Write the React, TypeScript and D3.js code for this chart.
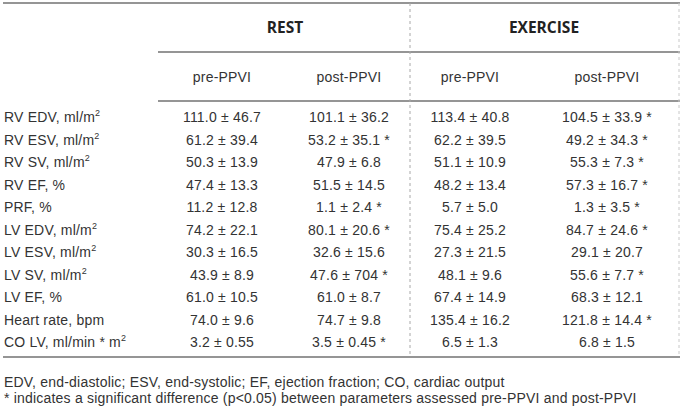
import React from "react";
import * as d3 from "d3";

const rowLabels = ["RV EDV", "RV ESV", "RV SV", "RV EF", "PRF", "LV EDV", "LV ESV", "LV SV", "LV EF", "Heart rate", "CO LV"];
const rowUnits = ["ml/m", "ml/m", "ml/m", "%", "%", "ml/m", "ml/m", "ml/m", "%", "bpm", "ml/min * m"];
const rowSup = ["2", "2", "2", "", "", "2", "2", "2", "", "", "2"];

const groups = ["REST", "EXERCISE"];
const columns = ["pre-PPVI", "post-PPVI", "pre-PPVI", "post-PPVI"];

const restPre = ["111.0 ± 46.7", "61.2 ± 39.4", "50.3 ± 13.9", "47.4 ± 13.3", "11.2 ± 12.8", "74.2 ± 22.1", "30.3 ± 16.5", "43.9 ± 8.9", "61.0 ± 10.5", "74.0 ± 9.6", "3.2 ± 0.55"];
const restPost = ["101.1 ± 36.2", "53.2 ± 35.1 *", "47.9 ± 6.8", "51.5 ± 14.5", "1.1 ± 2.4 *", "80.1 ± 20.6 *", "32.6 ± 15.6", "47.6 ± 704 *", "61.0 ± 8.7", "74.7 ± 9.8", "3.5 ± 0.45 *"];
const exPre = ["113.4 ± 40.8", "62.2 ± 39.5", "51.1 ± 10.9", "48.2 ± 13.4", "5.7 ± 5.0", "75.4 ± 25.2", "27.3 ± 21.5", "48.1 ± 9.6", "67.4 ± 14.9", "135.4 ± 16.2", "6.5 ± 1.3"];
const exPost = ["104.5 ± 33.9 *", "49.2 ± 34.3 *", "55.3 ± 7.3 *", "57.3 ± 16.7 *", "1.3 ± 3.5 *", "84.7 ± 24.6 *", "29.1 ± 20.7", "55.6 ± 7.7 *", "68.3 ± 12.1", "121.8 ± 14.4 *", "6.8 ± 1.5"];

const footnotes = [
  "EDV, end-diastolic; ESV, end-systolic; EF, ejection fraction; CO, cardiac output",
  "* indicates a significant difference (p<0.05) between parameters assessed pre-PPVI and post-PPVI",
];

export default function App() {
  const W = 685, H = 411;
  const colData = [restPre, restPost, exPre, exPost];
  const colIdx = d3.range(columns.length);
  const x = d3.scaleOrdinal<number, number>().domain(colIdx).range([222, 349, 470, 607]);
  const gx = d3.scaleOrdinal<number, number>().domain([0, 1]).range([285, 544]);
  const y = d3.scalePoint<string>().domain(rowLabels).range([117, 342]);
  const font = "'Liberation Sans', Arial, sans-serif";
  const txt = "#333";
  const line = "#959595";
  const left = 3, right = 680, midX = 410;
  const yTop = 3, yG = 52, yS = 101, yBot = 357;
  const fs = 14;
  const ls = 0.2;
  return (
    <svg width={W} height={H} style={{ position: "absolute", left: 0, top: 0, background: "#fff" }} fontFamily={font}>
      <rect width={W} height={H} fill="#fff" />
      <line x1={left} x2={right} y1={yTop} y2={yTop} stroke={line} strokeWidth={2} />
      <line x1={158} x2={right} y1={yG} y2={yG} stroke={line} strokeWidth={2} />
      <line x1={158} x2={right} y1={yS} y2={yS} stroke={line} strokeWidth={2} />
      <line x1={left} x2={right} y1={yBot} y2={yBot} stroke={line} strokeWidth={2} />
      <line x1={midX} x2={midX} y1={yTop} y2={yBot} stroke="#a8a8a8" strokeWidth={1} strokeDasharray="3,3" />
      <line x1={right - 1} x2={right - 1} y1={yTop} y2={yBot} stroke="#c8c8c8" strokeWidth={1} strokeDasharray="3,3" />
      {groups.map((g, i) => (
        <text key={g} x={gx(i)} y={33} textAnchor="middle" fontFamily="'Open Sans', Arial, sans-serif" fontWeight="bold" fontSize={15.5} fill="#222">{g}</text>
      ))}
      {columns.map((c, i) => (
        <text key={i} x={x(i)} y={82} textAnchor="middle" fontSize={fs} letterSpacing={ls} fill={txt}>{c}</text>
      ))}
      {rowLabels.map((r, ri) => (
        <g key={r}>
          <text x={4} y={(y(r) as number) + 5} fontSize={fs} letterSpacing={ls} fill={txt}>
            {`${r}, ${rowUnits[ri]}`}
            {rowSup[ri] ? <tspan dy={-6} fontSize={9}>{rowSup[ri]}</tspan> : null}
          </text>
          {colIdx.map((ci) => (
            <text key={ci} x={x(ci)} y={(y(r) as number) + 5} textAnchor="middle" fontSize={fs} letterSpacing={ls} fill={txt}>{colData[ci][ri]}</text>
          ))}
        </g>
      ))}
      {footnotes.map((f, i) => (
        <text key={i} x={4} y={387 + i * 16} fontSize={fs} letterSpacing={ls} fill={txt}>{f}</text>
      ))}
    </svg>
  );
}
